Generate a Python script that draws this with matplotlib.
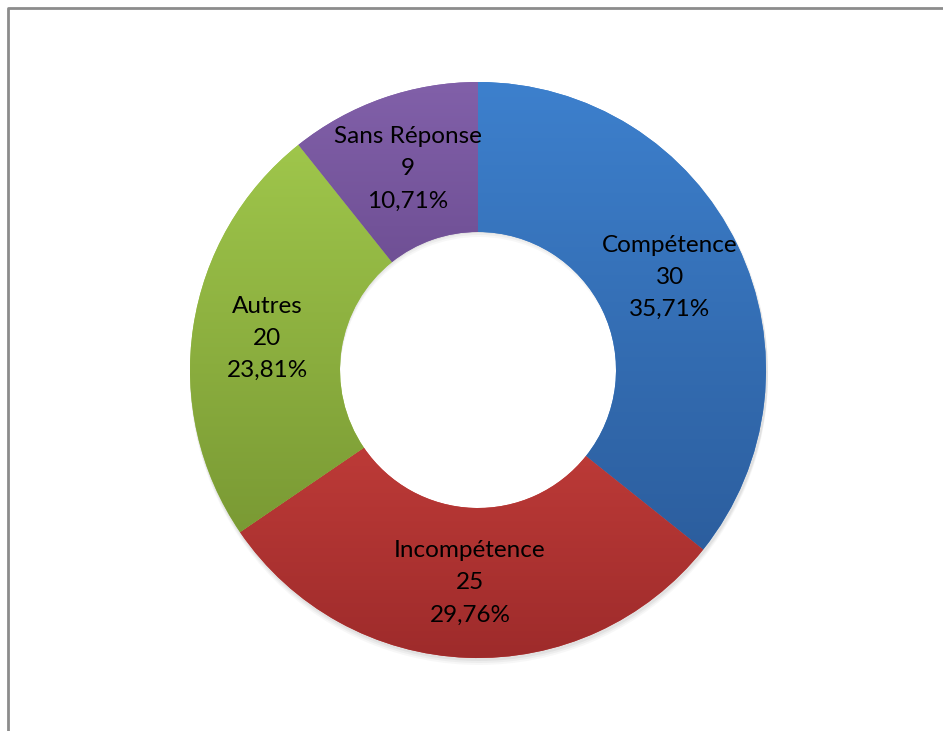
import numpy as np
import matplotlib
matplotlib.use('Agg')
import matplotlib.pyplot as plt
from matplotlib.colors import LinearSegmentedColormap
from matplotlib.patches import Wedge

# data
categories = ['Compétence', 'Incompétence', 'Autres', 'Sans Réponse']
counts = [30, 25, 20, 9]
percents = ['35,71%', '29,76%', '23,81%', '10,71%']

# light (top) -> dark (bottom) per slice
top_colors = ['#3d80cd', '#c8403c', '#9fc64b', '#8160a9']
bottom_colors = ['#2c5e9e', '#9e2b2b', '#7a9a34', '#654689']

W, H = 943, 731
fig = plt.figure(figsize=(W / 100, H / 100), dpi=100)
ax = fig.add_axes([0, 0, 1, 1])

cx, cy = 478, H - 370
R = 288
ring = 150

# soft shadow under the ring
for k, a in zip([6, 4, 2], [0.06, 0.08, 0.1]):
    ax.add_patch(Wedge((cx + 1, cy - k), R + 1, 0, 360, width=ring,
                       facecolor='#808080', edgecolor='none', alpha=a, zorder=1))

wedges, _ = ax.pie(counts, startangle=90, counterclock=False, radius=R,
                   center=(cx, cy), frame=True,
                   wedgeprops=dict(width=ring, edgecolor='none', zorder=2))

grad = np.linspace(1, 0, 256).reshape(-1, 1)
for w, c0, c1 in zip(wedges, top_colors, bottom_colors):
    cmap = LinearSegmentedColormap.from_list('g', [c1, c0])
    w.set_facecolor(c0)
    # gradient over the slice's own vertical extent
    verts = w.get_path().vertices
    y0, y1 = verts[:, 1].min(), verts[:, 1].max()
    im = ax.imshow(grad, cmap=cmap, extent=[cx - R, cx + R, y0, y1],
                   origin='upper', aspect='auto', zorder=3, vmin=0, vmax=1)
    im.set_clip_path(w)

ax.set_xlim(0, W)
ax.set_ylim(0, H)
ax.set_aspect('equal')
ax.axis('off')

r_lab = R - ring / 2
for w, name, n, p in zip(wedges, categories, counts, percents):
    ang = np.deg2rad((w.theta1 + w.theta2) / 2)
    x = cx + r_lab * np.cos(ang)
    y = cy + r_lab * np.sin(ang)
    ax.text(x, y, f'{name}\n{n}\n{p}', ha='center', va='center',
            fontsize=17.5, family='Lato', linespacing=1.65, color='black', zorder=5)

# chart frame (only top and left edges visible)
ax.plot([8, 8, W + 5], [-5, H - 8, H - 8], color='#8c8c8c', lw=2, zorder=6,
        clip_on=False)

fig.savefig('out.png', dpi=100)
